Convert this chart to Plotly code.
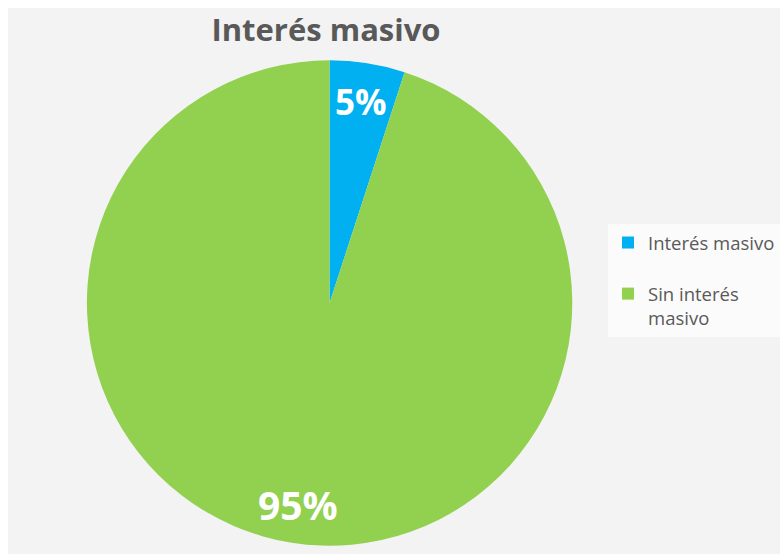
import math
import plotly.graph_objects as go

labels = ["Interés masivo", "Sin interés masivo"]
legend_names = ["Interés masivo<br> ", "Sin interés<br>masivo"]
values = [5, 95]
colors = ["#00B0F0", "#92D050"]
label_sizes = [35, 39]

# figure placed 8px from the page's top-left corner; figure coordinates = page - 8
OFF = 8
W, H = 780 - OFF, 554 - OFF
cx, cy, R = 330 - OFF, 303 - OFF, 243

fig = go.Figure()
fig.add_trace(go.Pie(
    labels=legend_names,
    values=values,
    sort=False,
    direction="clockwise",
    rotation=0,
    marker=dict(colors=colors, line=dict(width=0)),
    textinfo="none",
    hoverinfo="percent",
    domain=dict(x=[(cx - R) / W, (cx + R) / W], y=[(H - cy - R) / H, (H - cy + R) / H]),
))

total = sum(values)
cum = 0
annotations = []
for v, s in zip(values, label_sizes):
    mid = (cum + v / 2) / total
    cum += v
    ang = mid * 2 * math.pi
    r = 0.84 * R
    px = cx + r * math.sin(ang)
    py = cy - r * math.cos(ang)
    annotations.append(dict(
        x=px / W, y=(H - py) / H, xref="paper", yref="paper",
        text=f"<b>{round(v / total * 100)}%</b>", showarrow=False,
        font=dict(size=s, color="white", family="Open Sans"),
        xanchor="center", yanchor="middle",
    ))

fig.update_layout(
    width=W, height=H,
    margin=dict(l=0, r=0, t=0, b=0),
    paper_bgcolor="#f3f3f3",
    plot_bgcolor="#f3f3f3",
    title=dict(text="<b>Interés masivo</b>", x=(326 - OFF) / W, xanchor="center",
               y=1 - (30 - OFF) / H, yanchor="middle",
               font=dict(size=31, color="#595959", family="Open Sans")),
    legend=dict(x=(609 - OFF) / W, y=1 - (224 - OFF) / H, xanchor="left", yanchor="top",
                bgcolor="#fbfbfb", font=dict(size=18.5, color="#595959", family="Open Sans"),
                itemwidth=30, valign="top"),
    annotations=annotations,
)

fig.write_html(
    "out.html",
    post_script="document.body.style.margin='8px 0 0 8px';document.body.style.overflow='hidden';",
)
